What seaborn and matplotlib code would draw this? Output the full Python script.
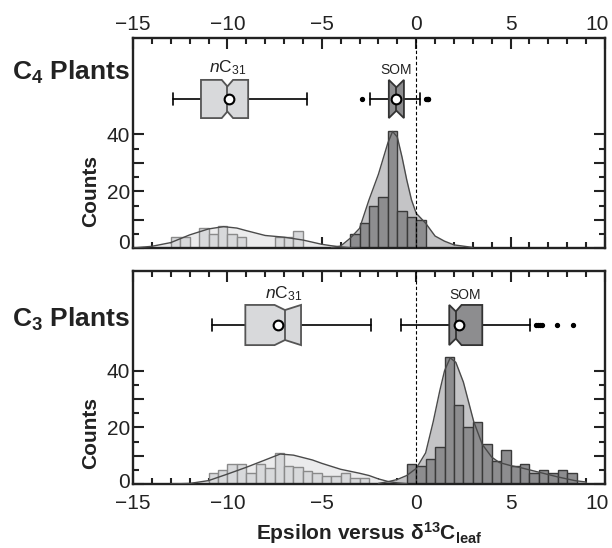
import numpy as np
import pandas as pd
import matplotlib
matplotlib.use('Agg')
import matplotlib.pyplot as plt
import matplotlib.transforms as mtransforms
from matplotlib.ticker import MultipleLocator
import seaborn as sns

# ---- histogram data (bin left edges, 0.5 wide, and counts) ----
c4_nc31_edges = [-13.0, -12.5, -12.0, -11.5, -11.0, -10.5, -10.0, -9.5, -9.0, -8.5, -8.0, -7.5, -7.0, -6.5]
c4_nc31_counts = [4, 4, 0, 7, 5, 8, 5, 4, 0, 0, 0, 4, 4, 6]
c4_som_edges = [-3.5, -3.0, -2.5, -2.0, -1.5, -1.0, -0.5, 0.0]
c4_som_counts = [5, 9, 15, 18, 41, 13, 11, 10]

c3_nc31_edges = [-11.0, -10.5, -10.0, -9.5, -9.0, -8.5, -8.0, -7.5, -7.0, -6.5, -6.0, -5.5, -5.0, -4.5, -4.0, -3.5, -3.0]
c3_nc31_counts = [4, 5, 7, 7, 4, 7, 5.5, 11, 6.5, 6, 4.5, 4, 3, 3, 4, 2, 2]
c3_som_edges = [-0.5, 0.0, 0.5, 1.0, 1.5, 2.0, 2.5, 3.0, 3.5, 4.0, 4.5, 5.0, 5.5, 6.0, 6.5, 7.0, 7.5, 8.0]
c3_som_counts = [7, 6.5, 9, 13, 45, 28, 20, 22, 14, 8, 12, 6.5, 7, 4, 5, 4, 5, 4]

# ---- smooth density curves (in counts) ----
c4_nc31_curve_x = [-15, -14, -13, -12, -11, -10.2, -9.5, -9, -8, -7, -6, -5, -4.5, -4, -3.5, -3]
c4_nc31_curve_y = [0.1, 0.7, 2.0, 4.7, 6.8, 7.6, 7.1, 6.2, 4.5, 3.9, 2.9, 1.4, 0.9, 0.5, 0.2, 0.05]
c4_som_curve_x = [-4.5, -4, -3.5, -3, -2.5, -2, -1.5, -1.25, -1.0, -0.75, -0.5, -0.25, 0, 0.5, 1, 1.5, 2, 3]
c4_som_curve_y = [0.2, 0.8, 3.5, 7, 17, 26, 37, 41, 39, 32, 24, 17, 12.3, 8.8, 4.3, 2.5, 1.2, 0.3]

c3_nc31_curve_x = [-13, -12, -11, -10, -9, -8, -7.2, -6.5, -5.5, -5, -4, -3, -2.5, -2, -1.5, -1, -0.5]
c3_nc31_curve_y = [0.0, 0.2, 1.2, 3.5, 5.9, 8.5, 10.6, 10.2, 8.5, 7.3, 5.2, 3.8, 3.0, 1.8, 0.9, 0.4, 0.1]
c3_som_curve_x = [-2, -1.5, -1, -0.5, 0, 0.5, 0.9, 1.25, 1.5, 1.8, 2.1, 2.5, 3.05, 3.5, 4, 4.4, 5, 5.45, 6, 6.9, 7.5, 8.4, 9]
c3_som_curve_y = [0.2, 0.8, 1.6, 3, 5.5, 11, 22, 33, 40, 44.6, 43, 36, 22, 14, 9.5, 7.6, 6.5, 5.9, 5, 3.5, 2.5, 1.2, 0.7]

# ---- box plot summaries: whislo, q1, median, q3, whishi, notch lo, notch hi, mean ----
c4_nc31_box = [-12.9, -11.4, -10.0, -8.9, -5.8, -10.3, -9.7, -9.9]
c4_som_box = [-2.45, -1.45, -1.05, -0.65, 0.2, -1.5, -0.6, -1.05]
c4_som_fliers = [-2.85, 0.5, 0.55, 0.6, 0.65]
c3_nc31_box = [-10.8, -9.05, -6.95, -6.1, -2.4, -7.5, -6.1, -7.3]
c3_som_box = [-0.8, 1.75, 2.1, 3.5, 6.05, 1.75, 2.4, 2.25]
c3_som_fliers = [6.35, 6.45, 6.55, 6.65, 7.45, 8.3]

NC31_BAR, NC31_EDGE, NC31_FILL = '#d8d9db', '#8a8a8a', '#ebebec'
SOM_BAR, SOM_EDGE, SOM_FILL = '#8d8d8f', '#3a3a3a', '#c4c4c6'
LINE = '#4a4a4a'

sns.set_theme(style='ticks')
plt.rcParams['font.family'] = ['Liberation Sans', 'DejaVu Sans']
plt.rcParams['mathtext.fontset'] = 'custom'
plt.rcParams['mathtext.rm'] = 'Liberation Sans'
plt.rcParams['mathtext.it'] = 'Liberation Sans:italic'
plt.rcParams['mathtext.bf'] = 'Liberation Sans:bold'

fig = plt.figure(figsize=(6.12, 5.48), dpi=100)
ax_top = fig.add_axes([133 / 612, 1 - 248.3 / 548, 472 / 612, 210.3 / 548])
ax_bot = fig.add_axes([133 / 612, 1 - 484 / 548, 472 / 612, 213 / 548])


def hist(ax, edges, counts, face, edge):
    centers = [e + 0.25 for e in edges]
    bins = list(edges) + [edges[-1] + 0.5]
    sns.histplot(x=centers, weights=counts, bins=bins, ax=ax, color=face,
                 edgecolor=edge, linewidth=1.0, alpha=1, zorder=2)


def curve(ax, cx, cy, fill):
    ax.fill_between(cx, cy, 0, color=fill, lw=0, zorder=1)
    sns.lineplot(x=cx, y=cy, ax=ax, color=LINE, lw=1.0, zorder=3)


def box(ax, stats, yc, hh, depth, face, edge, fliers=()):
    whislo, q1, med, q3, whishi, nlo, nhi, mean = stats
    nlo = max(nlo, q1)
    nhi = min(nhi, q3)
    xs = [q1, nlo, med, nhi, q3, q3, nhi, med, nlo, q1, q1]
    ys = [yc + hh, yc + hh, yc + hh - depth, yc + hh, yc + hh, yc - hh,
          yc - hh, yc - hh + depth, yc - hh, yc - hh, yc + hh]
    ax.plot([whislo, q1], [yc, yc], color='black', lw=1.2, zorder=5)
    ax.plot([q3, whishi], [yc, yc], color='black', lw=1.2, zorder=5)
    cap = 2.0
    for w in (whislo, whishi):
        ax.plot([w, w], [yc - cap, yc + cap], color='black', lw=1.2, zorder=5)
    ax.fill(xs, ys, facecolor=face, edgecolor=edge, lw=1.3, zorder=6)
    ax.plot([med, med], [yc + hh - depth, yc - hh + depth], color=edge, lw=1.3, zorder=7)
    ax.plot([mean], [yc], 'o', mfc='white', mec='black', ms=7, mew=1.5, zorder=8)
    if len(fliers):
        ax.plot(fliers, [yc] * len(fliers), 'o', color='black', ms=2.8, zorder=5)


def style(ax, ymax, top_labels, label_y, zero_lift):
    ax.set_xlim(-15, 10)
    ax.set_ylim(0, ymax)
    ax.axvline(0, color='black', ls=(0, (3, 2)), lw=0.8, zorder=4)
    ax.xaxis.set_major_locator(MultipleLocator(5))
    ax.xaxis.set_minor_locator(MultipleLocator(1))
    ax.set_yticks([0, 10, 20, 30, 40])
    ax.set_yticklabels(['0', '', '20', '', '40'])
    ax.set_yticks([5, 15, 25, 35], minor=True)
    ax.tick_params(axis='both', which='both', direction='in', top=True, right=True,
                   width=1.5, color='#222222', labelsize=15, labelcolor='#222222')
    ax.tick_params(which='major', length=8)
    ax.tick_params(which='minor', length=4)
    ax.tick_params(axis='x', labeltop=top_labels, labelbottom=not top_labels,
                   pad=3 if top_labels else 7)
    ax.tick_params(axis='y', pad=2)
    for s in ax.spines.values():
        s.set_linewidth(1.7)
        s.set_color('#222222')
    ax.set_ylabel('Counts', fontsize=15, fontweight='bold', color='#222222')
    ax.yaxis.set_label_coords(-0.07, label_y,
                              transform=mtransforms.blended_transform_factory(ax.transAxes, ax.transData))
    ax.set_xlabel('')
    # nudge a couple of tick labels the way the original has them
    fig.canvas.draw()
    for lab in ax.get_xticklabels():
        if lab.get_text() == '10':
            lab.set_transform(lab.get_transform() +
                              mtransforms.ScaledTranslation(-6 / 72, 0, fig.dpi_scale_trans))
    for lab in ax.get_yticklabels():
        if lab.get_text() == '0':
            lab.set_transform(lab.get_transform() +
                              mtransforms.ScaledTranslation(0, zero_lift / 100, fig.dpi_scale_trans))


# top panel: C4 plants
curve(ax_top, c4_nc31_curve_x, c4_nc31_curve_y, NC31_FILL)
curve(ax_top, c4_som_curve_x, c4_som_curve_y, SOM_FILL)
hist(ax_top, c4_nc31_edges, c4_nc31_counts, NC31_BAR, NC31_EDGE)
hist(ax_top, c4_som_edges, c4_som_counts, SOM_BAR, SOM_EDGE)
for line in ax_top.lines:
    line.set_zorder(3)
box(ax_top, c4_nc31_box, 52.4, 6.7, 2.3, NC31_BAR, '#555555')
box(ax_top, c4_som_box, 52.4, 6.7, 2.6, SOM_BAR, '#333333', c4_som_fliers)
ax_top.text(-10.0, 60.0, r'$\mathit{n}$C$_{31}$', ha='center', va='bottom', fontsize=12.5, color='#222222')
ax_top.text(-1.05, 60.2, 'SOM', ha='center', va='bottom', fontsize=10, color='#222222')
style(ax_top, 73.8, True, 20, 7)

# bottom panel: C3 plants
curve(ax_bot, c3_nc31_curve_x, c3_nc31_curve_y, NC31_FILL)
curve(ax_bot, c3_som_curve_x, c3_som_curve_y, SOM_FILL)
hist(ax_bot, c3_nc31_edges, c3_nc31_counts, NC31_BAR, NC31_EDGE)
hist(ax_bot, c3_som_edges, c3_som_counts, SOM_BAR, SOM_EDGE)
for line in ax_bot.lines:
    line.set_zorder(3)
box(ax_bot, c3_nc31_box, 56.2, 7.1, 1.8, NC31_BAR, '#555555')
box(ax_bot, c3_som_box, 56.2, 7.1, 2.3, SOM_BAR, '#333333', c3_som_fliers)
ax_bot.text(-7.0, 64.1, r'$\mathit{n}$C$_{31}$', ha='center', va='bottom', fontsize=12.5, color='#222222')
ax_bot.text(2.6, 64.3, 'SOM', ha='center', va='bottom', fontsize=10, color='#222222')
style(ax_bot, 75.3, False, 18, 4)
ax_bot.set_xlabel(r'Epsilon versus δ$^{\mathbf{13}}$C$_{\mathbf{leaf}}$', fontsize=15,
                  fontweight='bold', color='#222222', labelpad=5)

fig.text(12 / 612, 1 - 80 / 548, r'C$_{\mathbf{4}}$ Plants', fontsize=19, fontweight='bold', color='#222222')
fig.text(12 / 612, 1 - 327 / 548, r'C$_{\mathbf{3}}$ Plants', fontsize=19, fontweight='bold', color='#222222')

fig.savefig('out.png', dpi=100)
